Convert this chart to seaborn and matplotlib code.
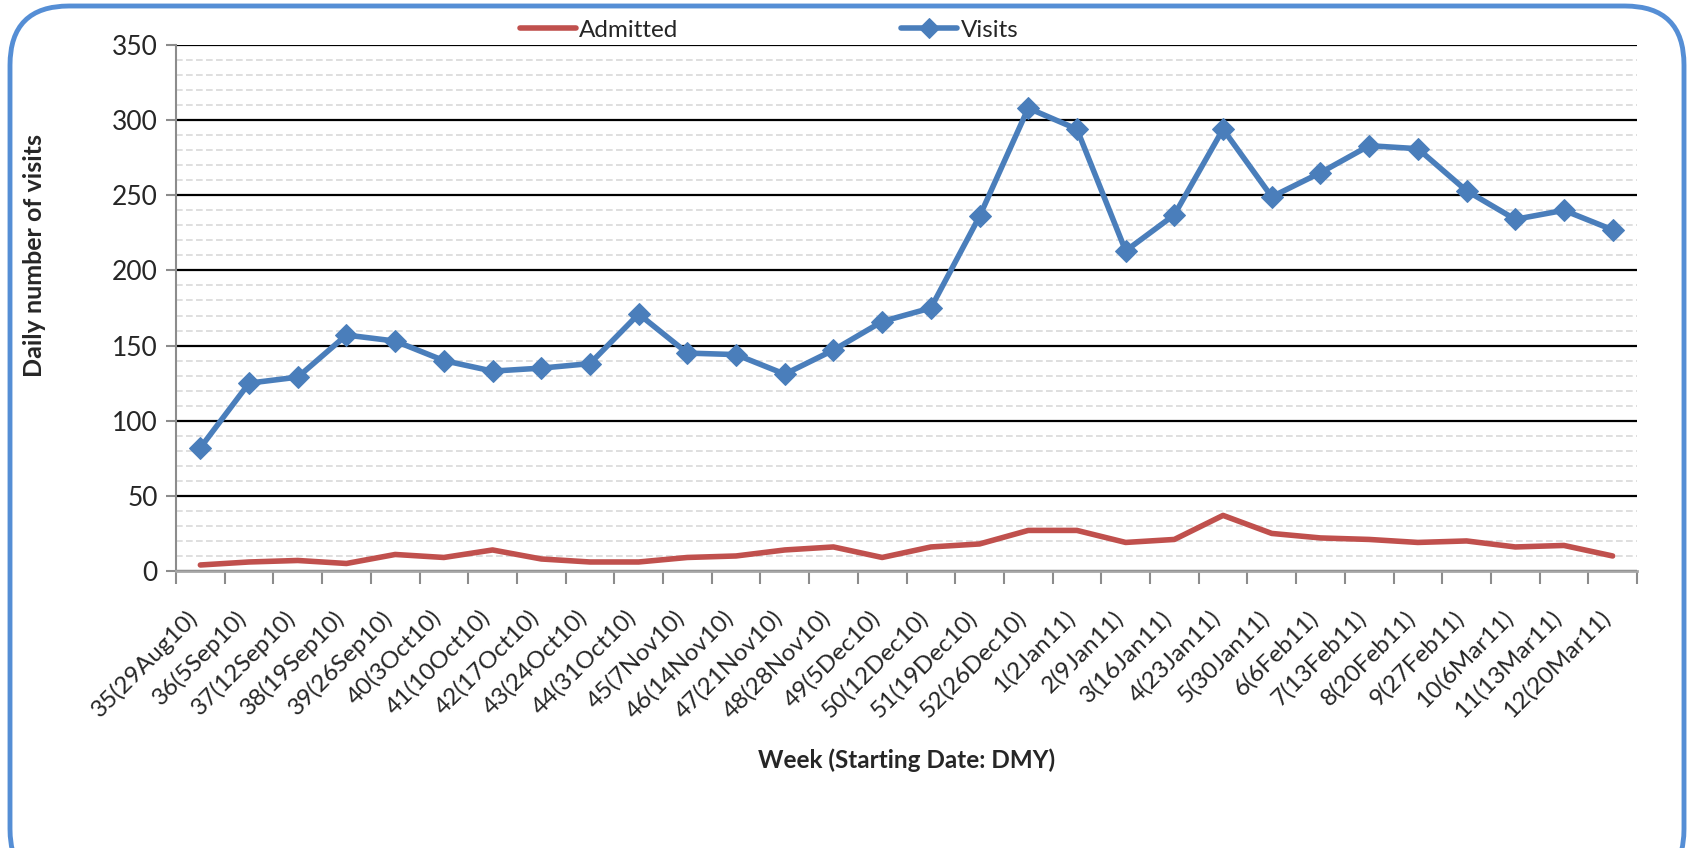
import matplotlib
matplotlib.use("Agg")
import matplotlib.pyplot as plt
import seaborn as sns
import numpy as np
import pandas as pd
from matplotlib.patches import FancyBboxPatch
from matplotlib.ticker import MultipleLocator, FixedLocator

weeks = ["35(29Aug10)", "36(5Sep10)", "37(12Sep10)", "38(19Sep10)", "39(26Sep10)",
         "40(3Oct10)", "41(10Oct10)", "42(17Oct10)", "43(24Oct10)", "44(31Oct10)",
         "45(7Nov10)", "46(14Nov10)", "47(21Nov10)", "48(28Nov10)", "49(5Dec10)",
         "50(12Dec10)", "51(19Dec10)", "52(26Dec10)", "1(2Jan11)", "2(9Jan11)",
         "3(16Jan11)", "4(23Jan11)", "5(30Jan11)", "6(6Feb11)", "7(13Feb11)",
         "8(20Feb11)", "9(27Feb11)", "10(6Mar11)", "11(13Mar11)", "12(20Mar11)"]
admitted = [4, 6, 7, 5, 11, 9, 14, 8, 6, 6,
            9, 10, 14, 16, 9, 16, 18, 27, 27, 19,
            21, 37, 25, 22, 21, 19, 20, 16, 17, 10]
visits = [82, 125, 129, 157, 153, 140, 133, 135, 138, 171,
          145, 144, 131, 147, 166, 175, 236, 308, 294, 213,
          237, 294, 249, 265, 283, 281, 253, 234, 240, 227]

sns.set_theme(style="white")
plt.rcParams['font.family'] = ['Lato', 'DejaVu Sans']

W, H = 1687, 848
L, R, T, B = 176, 1637, 45, 571
fig = plt.figure(figsize=(W / 100, H / 100), dpi=100)
ax = fig.add_axes([L / W, 1 - B / H, (R - L) / W, (B - T) / H])

df = pd.DataFrame({"idx": np.arange(len(weeks)), "Admitted": admitted, "Visits": visits})

red = "#C0504D"
blue = "#4A7EBB"

ax.yaxis.set_minor_locator(MultipleLocator(10))
ax.grid(which="minor", axis="y", color="#D9D9D9", linestyle=(0, (4, 2)), linewidth=1.2, zorder=0)
ax.grid(which="major", axis="y", color="black", linewidth=1.6, zorder=0.5)
ax.set_axisbelow(True)

sns.lineplot(data=df, x="idx", y="Admitted", ax=ax, color=red, linewidth=4.0,
             label="Admitted", zorder=3)
sns.lineplot(data=df, x="idx", y="Visits", ax=ax, color=blue, linewidth=4.0,
             marker="D", markersize=11.5, markeredgecolor=blue, label="Visits", zorder=4)

ax.set_xlim(-0.5, len(weeks) - 0.5)
ax.set_ylim(0, 350)
ax.yaxis.set_major_locator(MultipleLocator(50))

# rotated labels anchored near each category centre (Excel style)
label_shift = -0.12
ax.set_xticks(np.arange(len(weeks)) + label_shift)
ax.set_xticklabels(weeks, rotation=45, ha="right", va="center", rotation_mode="anchor", fontsize=17.5)
ax.tick_params(axis="x", which="major", length=0, pad=31)
ax.xaxis.set_minor_locator(FixedLocator(np.arange(len(weeks) + 1) - 0.5))
ax.tick_params(axis="x", which="minor", length=9, width=1.5, color="#8C8C8C", direction="out", bottom=True)

ax.tick_params(axis="y", which="major", length=7, width=1.5, color="#8C8C8C", direction="out",
               left=True, labelsize=19, pad=6)
ax.tick_params(axis="y", which="minor", length=0)

for s in ["top", "right"]:
    ax.spines[s].set_visible(False)
ax.spines["left"].set_color("#8C8C8C")
ax.spines["left"].set_linewidth(1.5)
ax.spines["bottom"].set_color("#A6A6A6")
ax.spines["bottom"].set_linewidth(2.0)

ax.set_xlabel("Week (Starting Date: DMY)", fontsize=17.5, fontweight="bold")
ax.set_ylabel("Daily number of visits", fontsize=18, fontweight="bold")
ax.xaxis.set_label_coords((907 - L) / (R - L), 1 - (748 - T) / (B - T), transform=ax.transAxes)
ax.yaxis.set_label_coords((46 - L) / (R - L), 0.60, transform=ax.transAxes)

ax.legend_.remove()
handles, labels = ax.get_legend_handles_labels()
fig.legend(handles, labels, loc="center", bbox_to_anchor=(769 / W, 1 - 30 / H), ncol=2,
           frameon=False, fontsize=17.5, handlelength=2.3, handletextpad=0.15,
           columnspacing=9.15, markerscale=0.9)

border = FancyBboxPatch((10 / W, -40 / H), (1684 - 10) / W, (H - 6 + 40) / H,
                        boxstyle="round,pad=0,rounding_size=0.035",
                        transform=fig.transFigure, facecolor="none",
                        edgecolor="#558ED5", linewidth=3.5, clip_on=False,
                        mutation_aspect=W / H)
fig.patches.append(border)

fig.savefig("out.png", dpi=100, facecolor="white")
